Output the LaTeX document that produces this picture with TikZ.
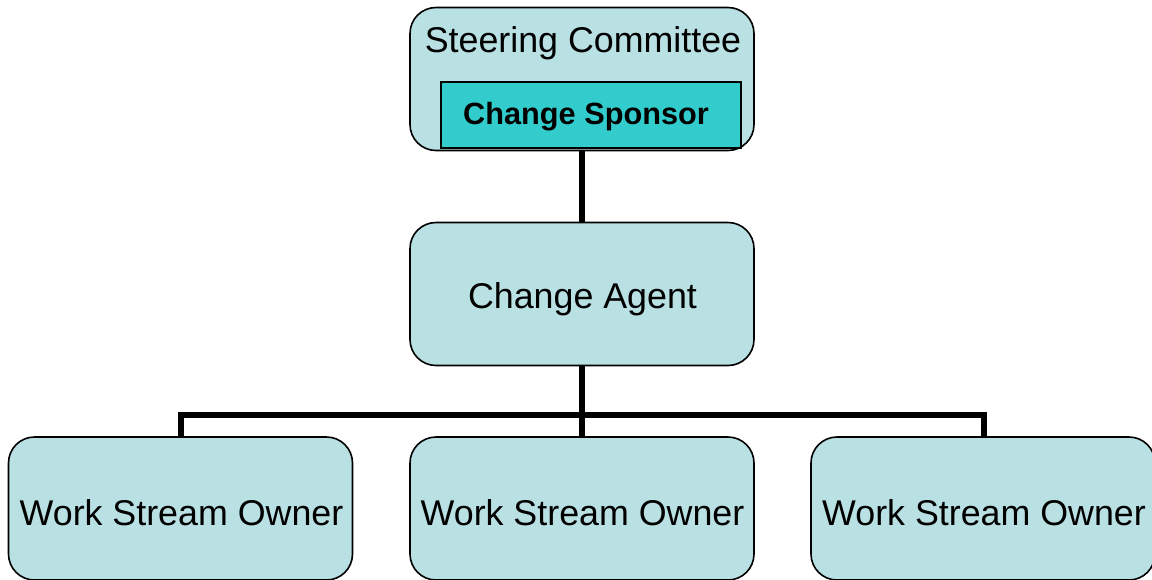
\documentclass[tikz,border=0pt]{standalone}
\usepackage{fontspec}
\setmainfont{Liberation Sans}
\definecolor{boxfill}{HTML}{B9E0E3}
\definecolor{teal2}{HTML}{33CCCC}
\begin{document}
\begin{tikzpicture}[x=1pt,y=-1pt,
  orgbox/.style={draw=black,line width=1.6pt,fill=boxfill,rounded corners=26pt,
    minimum width=344pt,minimum height=143pt,inner sep=0pt},
  boxtext/.style={anchor=base,inner sep=0pt,font=\fontsize{35.8}{40}\selectfont},
  sponsorbox/.style={draw=black,line width=1.6pt,fill=teal2,
    minimum width=300pt,minimum height=66pt,inner sep=0pt},
  conn/.style={line width=6pt,line join=miter,line cap=butt}]
\useasboundingbox (0,0) rectangle (1152,579);
% connectors first (boxes drawn over)
\coordinate (topS) at (582,150);
\coordinate (agN) at (582,222);
\coordinate (agS) at (582,366);
\coordinate (bus) at (582,414.5);
\coordinate (w1N) at (181,437);
\coordinate (w2N) at (582,437);
\coordinate (w3N) at (984,437);
\draw[conn] (topS) -- (agN);
\draw[conn] (agS) -- (w2N);
\draw[conn] (w1N) |- (bus) -| (w3N);
% boxes
\node[orgbox] (steer) at (582,79) {};
\node[boxtext] (steertxt) at (583,52) {Steering Committee};
\node[sponsorbox] (sponsor) at (591,115) {};
\node[anchor=base,inner sep=0pt,font=\fontsize{30.7}{36}\selectfont\bfseries] (sponsortxt) at (586,124) {Change Sponsor};
\node[orgbox] (agent) at (582,294) {};
\node[boxtext] (agenttxt) at (582.5,308) {Change Agent};
\node[orgbox] (w1) at (180.5,508.5) {};
\node[orgbox] (w2) at (582,508.5) {};
\node[orgbox] (w3) at (983,508.5) {};
\node[boxtext] (w1txt) at (181.5,525) {Work Stream Owner};
\node[boxtext] (w2txt) at (582.5,525) {Work Stream Owner};
\node[boxtext] (w3txt) at (984,525) {Work Stream Owner};
\end{tikzpicture}
\end{document}
